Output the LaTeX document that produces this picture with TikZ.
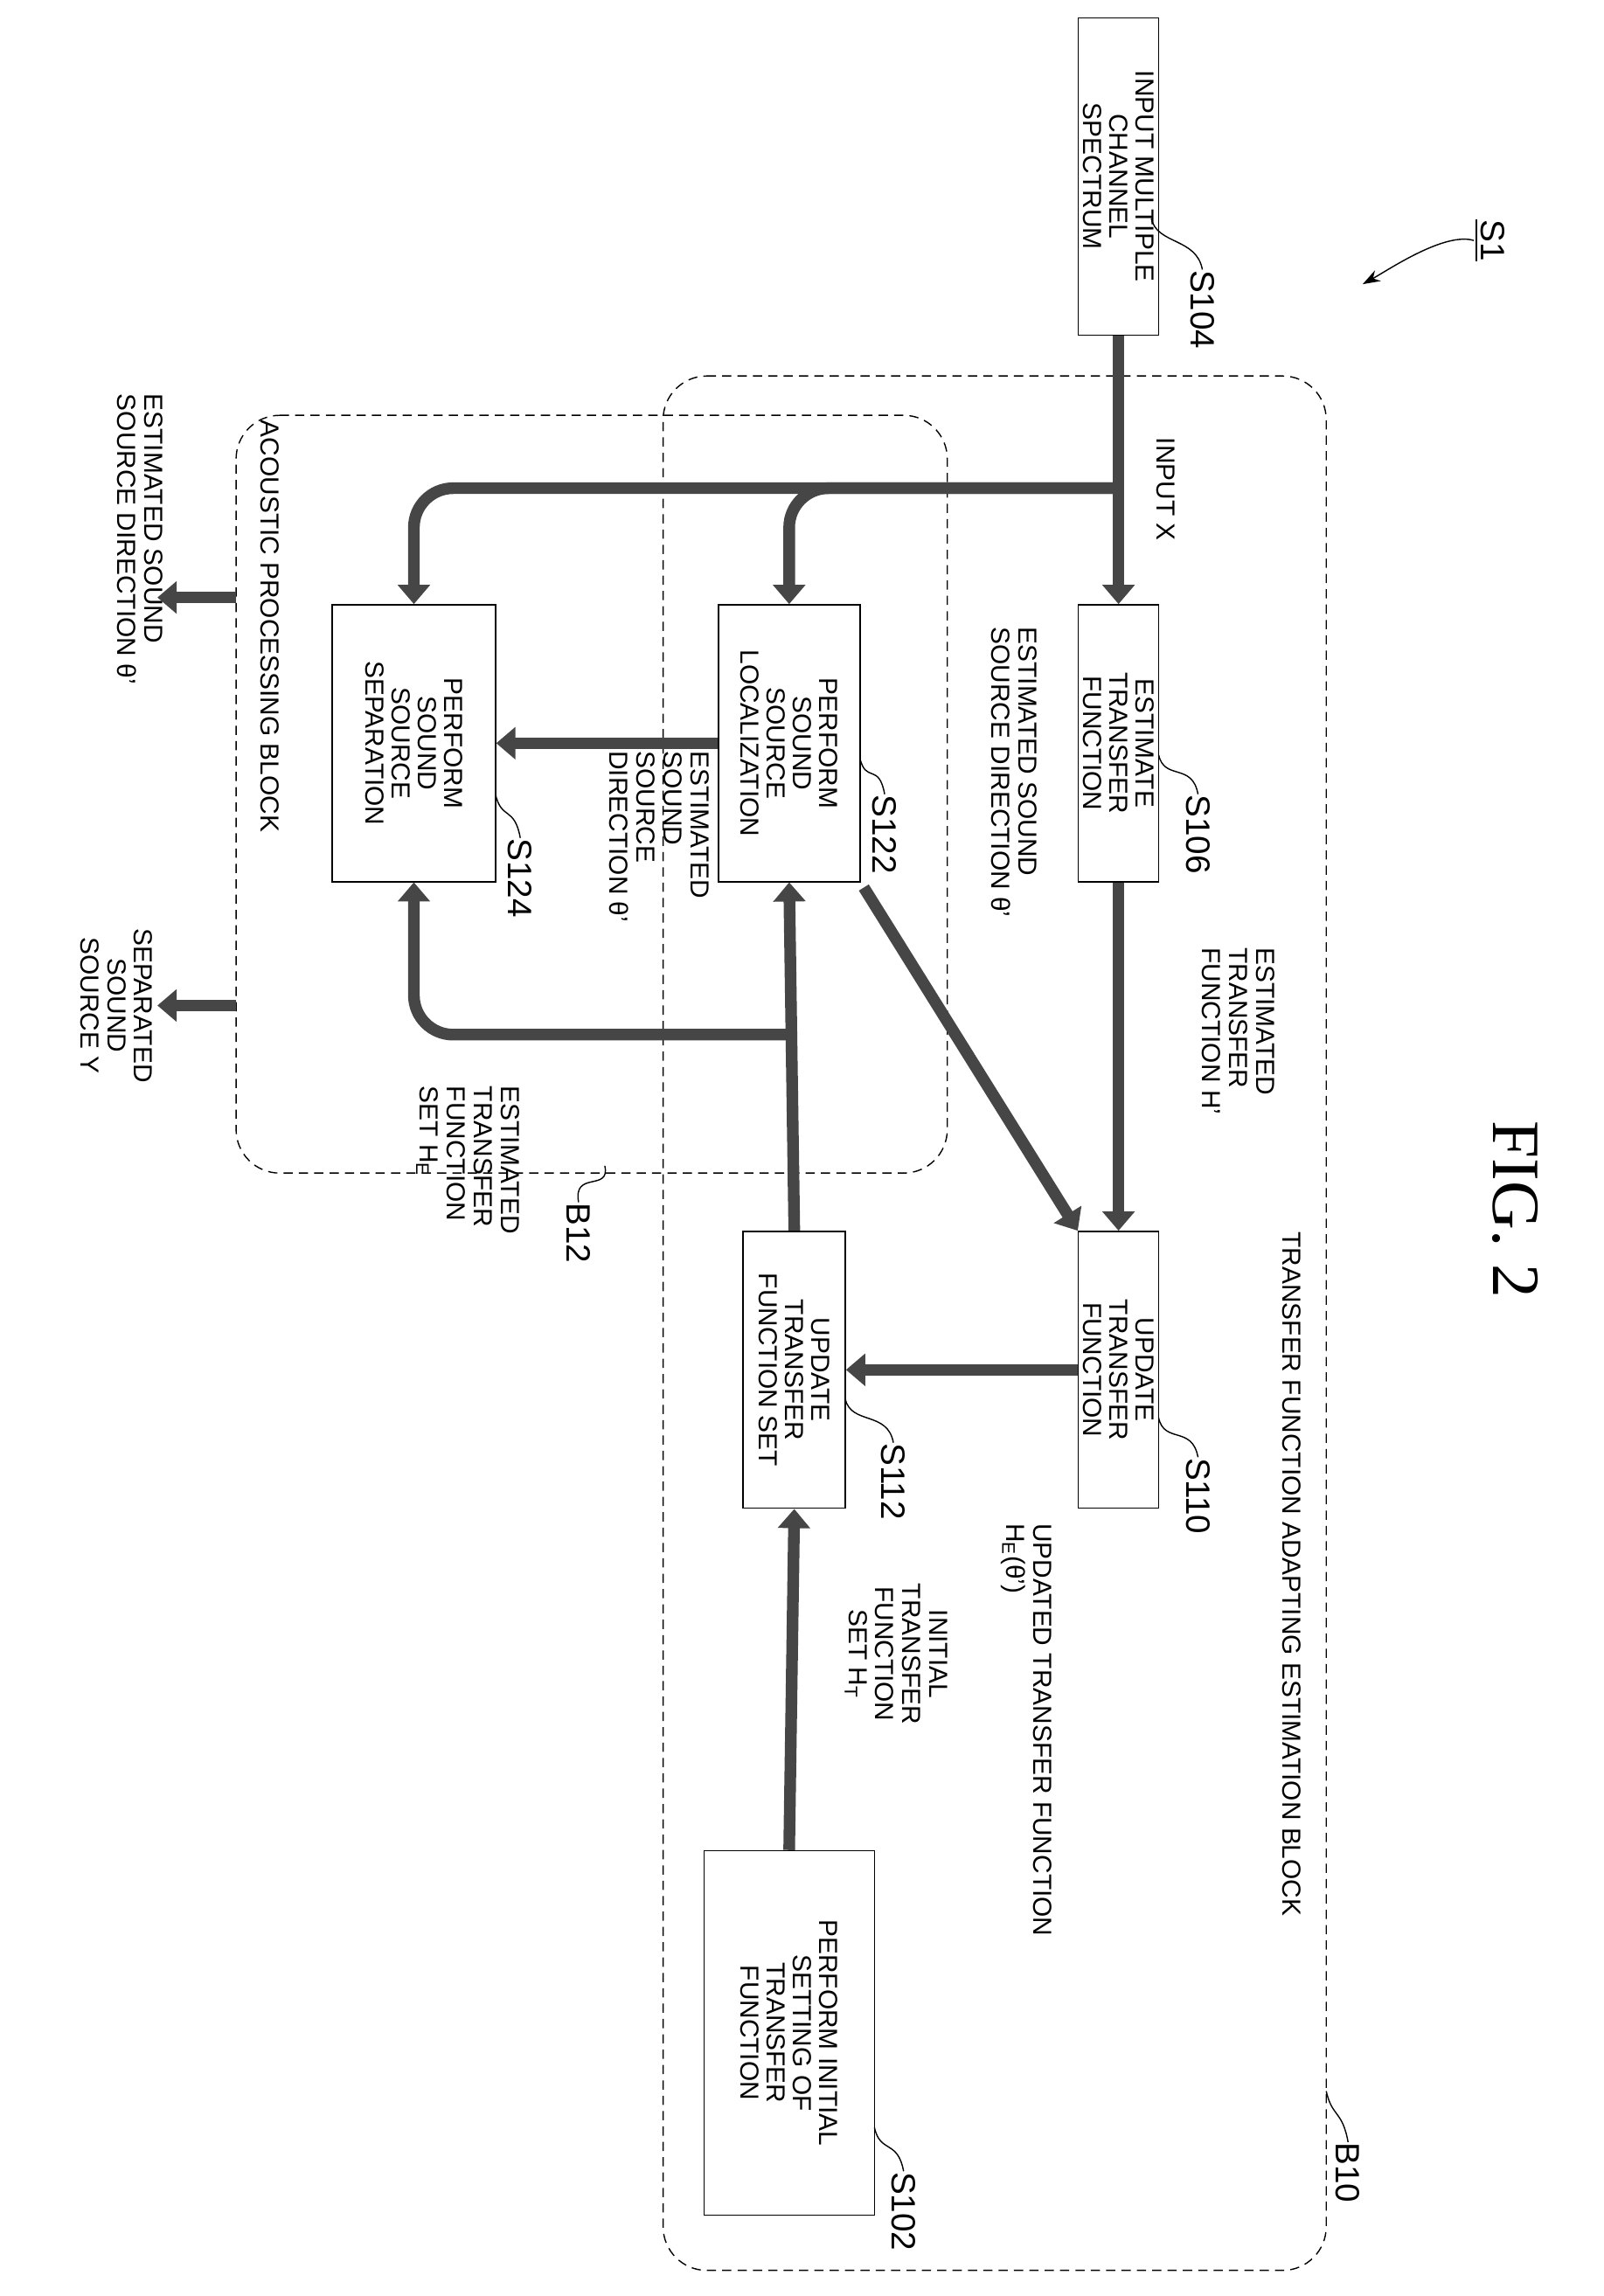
\documentclass[tikz,border=0pt]{standalone}
\usepackage{fontspec}
\setmainfont{Liberation Sans}
\newfontfamily\figfont{Liberation Serif}
\usetikzlibrary{arrows.meta,positioning}
\definecolor{hatchGray}{RGB}{70,70,70}
\tikzset{
    % process step boxes
    proc/.style={
           rectangle,
           draw, thin,
           rotate=-90,
           align=center,
           inner sep=1pt,
           font=\fontsize{8.5}{8.5}\selectfont},
    % dashed block outline
    block/.style={
           draw, densely dashed, thin,
           rounded corners=0.5cm},
    % thick data-flow arrow
    flow/.style={
           -{Triangle[width=0.36cm,length=0.22cm]},
           line width=3.8pt,
           draw=hatchGray},
    % arrow label text
    lbl/.style={
           rotate=-90,
           align=left,
           inner sep=0pt,
           font=\fontsize{8.5}{8.8}\selectfont},
    % reference numerals and their leaders
    refnum/.style={
           rotate=-90,
           anchor=west,
           inner sep=0pt,
           font=\fontsize{11}{11}\selectfont},
    leader/.style={thin},
}

\begin{document}
\begin{tikzpicture}[x=0.016673cm, y=0.016673cm]
\useasboundingbox (-1100,-1575.6) rectangle (0,0);
\begin{scope}[rotate=-90, shift={(0,-1100)}]
% -------------------------------------------------
% blocks
\draw[block] (258,455) rectangle (1558,910);
\draw[block] (285,162) rectangle (805,650);
% -------------------------------------------------
% steps
\node[proc, minimum width=3.63cm, minimum height=0.92cm] (s104) at (121,767.5)
  {INPUT MULTIPLE\\CHANNEL\\SPECTRUM};
\node[proc, minimum width=3.17cm, minimum height=0.92cm] (s106) at (510,767.5)
  {ESTIMATE\\TRANSFER\\FUNCTION};
\node[proc, minimum width=3.17cm, minimum height=1.62cm] (s122) at (510,541.5)
  {PERFORM\\SOUND\\SOURCE\\LOCALIZATION};
\node[proc, minimum width=3.17cm, minimum height=1.87cm] (s124) at (510,284)
  {PERFORM\\SOUND\\SOURCE\\SEPARATION};
\node[proc, minimum width=3.17cm, minimum height=0.92cm] (s110) at (940,767.5)
  {UPDATE\\TRANSFER\\FUNCTION};
\node[proc, minimum width=3.17cm, minimum height=1.17cm] (s112) at (940,545)
  {UPDATE\\TRANSFER\\FUNCTION SET};
\node[proc, minimum width=4.17cm, minimum height=1.95cm] (s102) at (1395,541.5)
  {PERFORM INITIAL\\SETTING OF\\TRANSFER\\FUNCTION};
% -------------------------------------------------
% junctions and free ends
\coordinate (inj) at (335,767.5);
\coordinate (hej) at (710,545);
\coordinate (outa) at (410,162);
\coordinate (outa end) at (410,108);
\coordinate (outb) at (690,162);
\coordinate (outb end) at (690,108);
% flows
\draw[flow] (s104.east) -- (s106.west);
\draw[flow, rounded corners=0.45cm] (inj) |- (s122.west);
\draw[flow, rounded corners=0.45cm] (inj) |- (s124.west);
\draw[flow] (s106.east) -- (s110.west);
\draw[flow, shorten <=2pt] (s122.north east) -- (s110.south west);
\draw[flow] (s122.south) -- (s124.north);
\draw[flow] (s110.south) -- (s112.north);
\draw[flow] (s102.west) -- (s112.east);
\draw[flow] (s112.west) -- (s122.east);
\draw[flow, rounded corners=0.45cm] (hej) |- (s124.east);
\draw[flow] (outa) -- (outa end);
\draw[flow] (outb) -- (outb end);
% -------------------------------------------------
% flow labels
\node[lbl, anchor=west] (lx) at (300,800) {INPUT X};
\node[lbl, anchor=north west] (lh) at (650,875) {ESTIMATED\\TRANSFER\\FUNCTION H'};
\node[lbl, anchor=north west] (ld) at (430,712) {ESTIMATED SOUND\\SOURCE DIRECTION θ'};
\node[lbl, anchor=north west] (ld2) at (515,487) {ESTIMATED\\SOUND\\SOURCE\\DIRECTION θ'};
\node[lbl, anchor=north west] (lhe) at (745,357) {ESTIMATED\\TRANSFER\\FUNCTION\\SET H\textsubscript{E}};
\node[lbl, anchor=north west] (lup) at (1045,722) {UPDATED TRANSFER FUNCTION\\H\textsubscript{E}(θ')};
\node[lbl, align=center] (lht) at (1135,615) {INITIAL\\TRANSFER\\FUNCTION\\SET H\textsubscript{T}};
\node[lbl, anchor=north west] (lod) at (270,112) {ESTIMATED SOUND\\SOURCE DIRECTION θ'};
\node[lbl, align=center] (los) at (690,80) {SEPARATED\\SOUND\\SOURCE Y};
\node[lbl, anchor=north west] (lb12) at (288,192) {ACOUSTIC PROCESSING BLOCK};
\node[lbl, anchor=north west] (lb10) at (845,893) {TRANSFER FUNCTION ADAPTING ESTIMATION BLOCK};
% -------------------------------------------------
% reference numerals
\node[refnum] (n104) at (185,825) {S104};
\node[refnum] (n106) at (545,822) {S106};
\node[refnum] (n122) at (545,607) {S122};
\node[refnum] (n124) at (575,357) {S124};
\node[refnum] (n110) at (1000,822) {S110};
\node[refnum] (n112) at (990,613) {S112};
\node[refnum] (n102) at (1490,620) {S102};
\node[refnum] (nb10) at (1470,925) {B10};
\node[refnum] (nb12) at (825,397) {B12};
\coordinate (e104) at (150,790);
\coordinate (e106) at (518,795);
\coordinate (e122) at (520,590);
\coordinate (e124) at (545,340);
\coordinate (e110) at (973,795);
\coordinate (e112) at (960,580);
\coordinate (e102) at (1460,600);
\coordinate (eb10) at (1435,910);
\coordinate (eb12) at (800,415);
\foreach \e/\n in {e104/n104,e106/n106,e122/n122,e124/n124,e110/n110,e112/n112,e102/n102,eb10/nb10,eb12/nb12}
  \draw[leader] (\e) .. controls +(18,4) and +(-22,-4) .. (\n.west);
% -------------------------------------------------
% figure title and overall numeral
\node[rotate=-90, font=\figfont\fontsize{22}{22}\selectfont] (fig) at (830,1040) {FIG. 2};
\node[refnum, anchor=center] (s1) at (165,1022) {\underline{S1}};
\coordinate (s1 end) at (195,935);
\draw[thin, -{Stealth[length=0.2cm,width=0.14cm]}] (s1.south) .. controls +(-6,-20) and +(-10,18) .. (s1 end);
\end{scope}
\end{tikzpicture}
\end{document}
